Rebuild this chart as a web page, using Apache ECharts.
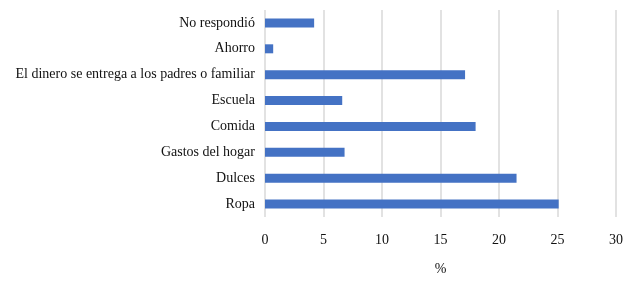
<!DOCTYPE html>
<html>
<head>
<meta charset="utf-8">
<script src="https://cdn.jsdelivr.net/npm/echarts@6/dist/echarts.min.js"></script>
<style>
  html, body { margin: 0; padding: 0; background: #fff; }
  #chart { width: 634px; height: 281px; }
</style>
</head>
<body>
<div id="chart"></div>
<script>
  // categories top to bottom
  var categories = ['No respondió', 'Ahorro', 'El dinero se entrega a los padres o familiar',
    'Escuela', 'Comida', 'Gastos del hogar', 'Dulces', 'Ropa'];
  var values = [4.2, 0.7, 17.1, 6.6, 18.0, 6.8, 21.5, 25.1];
  var xTicks = [0, 5, 10, 15, 20, 25, 30];

  var myChart = echarts.init(document.getElementById('chart'));
  var font = 'Liberation Serif, Times New Roman, serif';
  var option = {
    animation: false,
    grid: { left: 265, right: 18, top: 10, bottom: 63 },
    xAxis: {
      type: 'value',
      min: xTicks[0],
      max: xTicks[xTicks.length - 1],
      interval: 5,
      name: '%',
      nameLocation: 'middle',
      nameGap: 45,
      nameTextStyle: { fontFamily: font, fontSize: 14, color: '#111' },
      axisLine: { show: false },
      axisTick: { show: false },
      axisLabel: { fontFamily: font, fontSize: 14, color: '#111', margin: 16 },
      splitLine: { lineStyle: { color: '#d9d9d9', width: 1.5 } }
    },
    yAxis: {
      type: 'category',
      inverse: true,
      data: categories,
      axisLine: { show: false },
      axisTick: { show: false },
      axisLabel: { fontFamily: font, fontSize: 14, color: '#111', margin: 10 }
    },
    series: [{
      type: 'bar',
      data: values,
      barWidth: 9,
      itemStyle: { color: '#4472c4' }
    }]
  };
  myChart.setOption(option);
</script>
</body>
</html>
